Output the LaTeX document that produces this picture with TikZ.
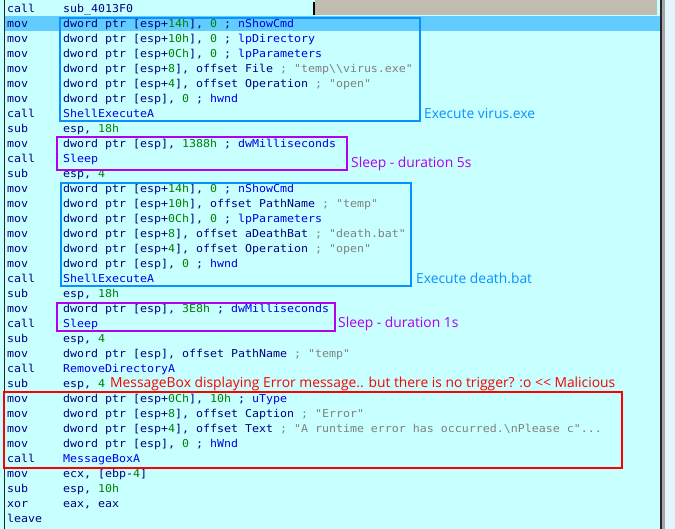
\documentclass[tikz,border=0pt]{standalone}
\usepackage{fontspec}
\newfontfamily\codefont[FakeStretch=1.07]{DejaVu Sans Mono}
\newfontfamily\notefont{Open Sans}

\definecolor{idabg}{RGB}{200,255,255}
\definecolor{idasel}{RGB}{96,204,255}
\definecolor{idabar}{RGB}{192,188,176}
\definecolor{idaside}{RGB}{228,244,252}
\definecolor{idatxt}{RGB}{0,0,128}
\definecolor{idanum}{RGB}{0,128,0}
\definecolor{idastr}{RGB}{128,128,128}
\definecolor{idafn}{RGB}{0,0,230}
\definecolor{markblue}{RGB}{10,145,255}
\definecolor{markpurple}{RGB}{175,0,240}
\definecolor{markred}{RGB}{255,0,0}

\newcommand{\asmnum}[1]{\textcolor{idanum}{#1}}
\newcommand{\asmstr}[1]{\textcolor{idastr}{#1}}
\newcommand{\asmfn}[1]{\textcolor{idafn}{#1}}
\newcommand{\asmarg}[1]{\textcolor{idafn}{#1}}
\newcommand{\asmbs}{\textbackslash}

\tikzset{
  mnem/.style={anchor=base west, inner sep=0pt, text=idatxt,
    font=\codefont\fontsize{10.9}{14}\selectfont},
  oper/.style={mnem},
  note/.style={anchor=base west, inner sep=0pt,
    font=\notefont\fontsize{13.9}{16}\selectfont},
  markbox/.style={line width=2bp},
}

\begin{document}
\begin{tikzpicture}[x=1bp,y=-1bp]
    \useasboundingbox (0,0) rectangle (675,529);

    %window
    \fill[idabg] (0,0) rectangle (662,529);
    \fill[idaside] (662,0) rectangle (675,529);
    \fill[black!35] (662,0) rectangle (665,529);
    \fill[idabar] (315,0) rectangle (657,15);
    \draw[black,line width=1.2bp] (314,2) -- (314,15);
    \fill[idasel] (5,16) rectangle (661,31);
    \draw[black!85,line width=1.3bp] (4.5,0) -- (4.5,529);
    \draw[black!85,line width=2bp] (661,0) -- (661,529);

    %code lines
    \node[mnem] (m1) at (7,12.5) {call};
    \node[oper] (o1) at (63,12.5) {sub\_4013F0};
    \node[mnem] (m2) at (7,27.5) {mov};
    \node[oper] (o2) at (63,27.5) {dword ptr [esp+\asmnum{14h}], \asmnum{0} ; \asmarg{nShowCmd}};
    \node[mnem] (m3) at (7,42.5) {mov};
    \node[oper] (o3) at (63,42.5) {dword ptr [esp+\asmnum{10h}], \asmnum{0} ; \asmarg{lpDirectory}};
    \node[mnem] (m4) at (7,57.5) {mov};
    \node[oper] (o4) at (63,57.5) {dword ptr [esp+\asmnum{0Ch}], \asmnum{0} ; \asmarg{lpParameters}};
    \node[mnem] (m5) at (7,72.5) {mov};
    \node[oper] (o5) at (63,72.5) {dword ptr [esp+\asmnum{8}], offset File \asmstr{; "temp\asmbs\asmbs virus.exe"}};
    \node[mnem] (m6) at (7,87.5) {mov};
    \node[oper] (o6) at (63,87.5) {dword ptr [esp+\asmnum{4}], offset Operation \asmstr{; "open"}};
    \node[mnem] (m7) at (7,102.5) {mov};
    \node[oper] (o7) at (63,102.5) {dword ptr [esp], \asmnum{0} ; \asmarg{hwnd}};
    \node[mnem] (m8) at (7,117.5) {call};
    \node[oper] (o8) at (63,117.5) {\asmfn{ShellExecuteA}};
    \node[mnem] (m9) at (7,132.5) {sub};
    \node[oper] (o9) at (63,132.5) {esp, \asmnum{18h}};
    \node[mnem] (m10) at (7,147.5) {mov};
    \node[oper] (o10) at (63,147.5) {dword ptr [esp], \asmnum{1388h} ; \asmarg{dwMilliseconds}};
    \node[mnem] (m11) at (7,162.5) {call};
    \node[oper] (o11) at (63,162.5) {\asmfn{Sleep}};
    \node[mnem] (m12) at (7,177.5) {sub};
    \node[oper] (o12) at (63,177.5) {esp, \asmnum{4}};
    \node[mnem] (m13) at (7,192.5) {mov};
    \node[oper] (o13) at (63,192.5) {dword ptr [esp+\asmnum{14h}], \asmnum{0} ; \asmarg{nShowCmd}};
    \node[mnem] (m14) at (7,207.5) {mov};
    \node[oper] (o14) at (63,207.5) {dword ptr [esp+\asmnum{10h}], offset PathName \asmstr{; "temp"}};
    \node[mnem] (m15) at (7,222.5) {mov};
    \node[oper] (o15) at (63,222.5) {dword ptr [esp+\asmnum{0Ch}], \asmnum{0} ; \asmarg{lpParameters}};
    \node[mnem] (m16) at (7,237.5) {mov};
    \node[oper] (o16) at (63,237.5) {dword ptr [esp+\asmnum{8}], offset aDeathBat \asmstr{; "death.bat"}};
    \node[mnem] (m17) at (7,252.5) {mov};
    \node[oper] (o17) at (63,252.5) {dword ptr [esp+\asmnum{4}], offset Operation \asmstr{; "open"}};
    \node[mnem] (m18) at (7,267.5) {mov};
    \node[oper] (o18) at (63,267.5) {dword ptr [esp], \asmnum{0} ; \asmarg{hwnd}};
    \node[mnem] (m19) at (7,282.5) {call};
    \node[oper] (o19) at (63,282.5) {\asmfn{ShellExecuteA}};
    \node[mnem] (m20) at (7,297.5) {sub};
    \node[oper] (o20) at (63,297.5) {esp, \asmnum{18h}};
    \node[mnem] (m21) at (7,312.5) {mov};
    \node[oper] (o21) at (63,312.5) {dword ptr [esp], \asmnum{3E8h} ; \asmarg{dwMilliseconds}};
    \node[mnem] (m22) at (7,327.5) {call};
    \node[oper] (o22) at (63,327.5) {\asmfn{Sleep}};
    \node[mnem] (m23) at (7,342.5) {sub};
    \node[oper] (o23) at (63,342.5) {esp, \asmnum{4}};
    \node[mnem] (m24) at (7,357.5) {mov};
    \node[oper] (o24) at (63,357.5) {dword ptr [esp], offset PathName \asmstr{; "temp"}};
    \node[mnem] (m25) at (7,372.5) {call};
    \node[oper] (o25) at (63,372.5) {\asmfn{RemoveDirectoryA}};
    \node[mnem] (m26) at (7,387.5) {sub};
    \node[oper] (o26) at (63,387.5) {esp, \asmnum{4}};
    \node[mnem] (m27) at (7,402.5) {mov};
    \node[oper] (o27) at (63,402.5) {dword ptr [esp+\asmnum{0Ch}], \asmnum{10h} ; \asmarg{uType}};
    \node[mnem] (m28) at (7,417.5) {mov};
    \node[oper] (o28) at (63,417.5) {dword ptr [esp+\asmnum{8}], offset Caption \asmstr{; "Error"}};
    \node[mnem] (m29) at (7,432.5) {mov};
    \node[oper] (o29) at (63,432.5) {dword ptr [esp+\asmnum{4}], offset Text \asmstr{; "A runtime error has occurred.\asmbs nPlease c"...}};
    \node[mnem] (m30) at (7,447.5) {mov};
    \node[oper] (o30) at (63,447.5) {dword ptr [esp], \asmnum{0} ; \asmarg{hWnd}};
    \node[mnem] (m31) at (7,462.5) {call};
    \node[oper] (o31) at (63,462.5) {\asmfn{MessageBoxA}};
    \node[mnem] (m32) at (7,477.5) {mov};
    \node[oper] (o32) at (63,477.5) {ecx, [ebp-\asmnum{4}]};
    \node[mnem] (m33) at (7,492.5) {sub};
    \node[oper] (o33) at (63,492.5) {esp, \asmnum{10h}};
    \node[mnem] (m34) at (7,507.5) {xor};
    \node[oper] (o34) at (63,507.5) {eax, eax};
    \node[mnem] (m35) at (7,522.5) {leave};

    %marked blocks
    \draw[markbox,markblue] (60,18) rectangle (420,121);
    \draw[markbox,markpurple] (57,137) rectangle (347,170);
    \draw[markbox,markblue] (61,183) rectangle (411,286);
    \draw[markbox,markpurple] (57,303) rectangle (335,331);
    \draw[markbox,markred] (4,392) rectangle (622,468);

    %notes
    \node[note,text=markblue] (virus) at (424,119) {Execute virus.exe};
    \node[note,text=markpurple] (sleepa) at (351,168) {Sleep - duration 5s};
    \node[note,text=markblue] (death) at (416,283) {Execute death.bat};
    \node[note,text=markpurple] (sleepb) at (338,327) {Sleep - duration 1s};
    \node[note,text=markred] (msgbox) at (110,387) {MessageBox displaying Error message.. but there is no trigger? :o << Malicious};
\end{tikzpicture}
\end{document}
